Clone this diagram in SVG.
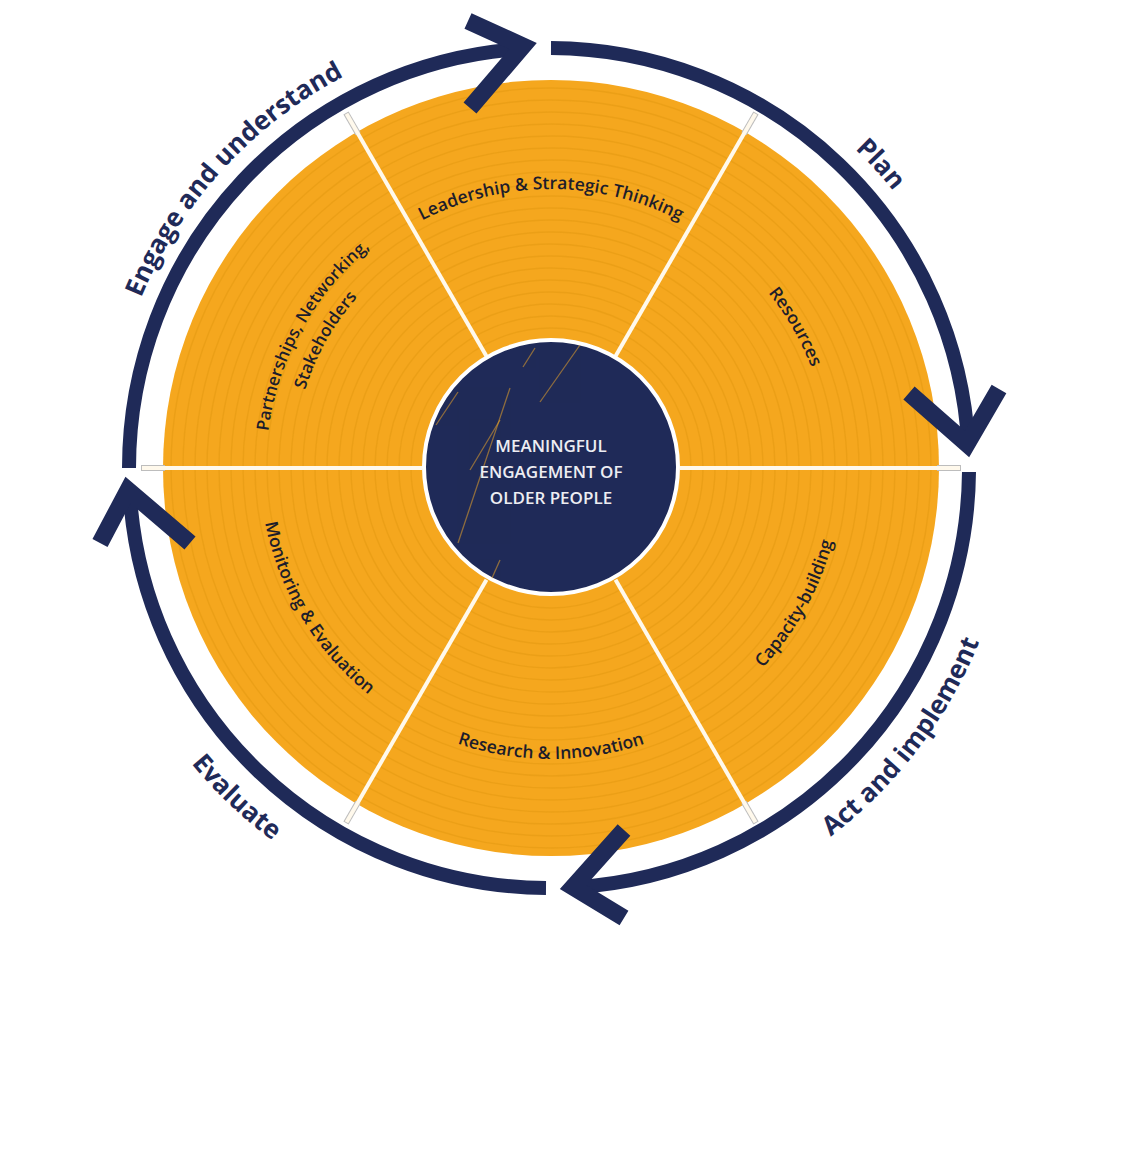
<svg xmlns="http://www.w3.org/2000/svg" width="1123" height="1151" viewBox="0 0 1123 1151">
<style>
.arc{fill:none;stroke:#1F2A58;stroke-width:14;stroke-linecap:butt}
.head{fill:none;stroke:#1F2A58;stroke-width:17;stroke-linejoin:miter;stroke-miterlimit:6;stroke-linecap:butt}
.phase{font-family:"Open Sans","Noto Sans","Liberation Sans",sans-serif;font-weight:700;font-size:26px;fill:#1F2A58;text-anchor:middle}
.lbl{font-family:"Open Sans","Noto Sans","Liberation Sans",sans-serif;font-weight:600;font-size:17.5px;fill:#1D1D2B;text-anchor:middle}
.lbl2{font-size:17px}
.ctr{font-family:"Open Sans","Noto Sans","Liberation Sans",sans-serif;font-weight:600;font-size:17px;fill:#EDEDF2;text-anchor:middle}
.ring{fill:none;stroke:#E0960F;stroke-width:1.4;opacity:.45}
.spk-o{stroke:#BDBDBD;stroke-width:6}
.spk{stroke:#FFF9EC;stroke-width:4}
.streak{stroke:#E8A32A;stroke-width:1.3;opacity:.55}
</style>
<defs>
<clipPath id="innerClip"><circle cx="551" cy="467" r="126"/></clipPath>
<path id="p-engage" d="M107.4,448.7 A442,442 0 0 1 491.3,29.8"/>
<path id="p-plan" d="M681.9,46.5 A442,442 0 0 1 980.5,372.3"/>
<path id="p-act" d="M651.0,920.6 A464,464 0 0 0 1012.5,446.1"/>
<path id="p-eval" d="M88.0,520.5 A464,464 0 0 0 520.7,931.1"/>
<path id="p-lead" d="M337.3,288.7 A279,279 0 0 1 764.7,288.7"/>
<path id="p-res" d="M646.4,205.8 A279,279 0 0 1 825.8,516.4"/>
<path id="p-cap" d="M655.3,739.7 A291,291 0 0 0 836.7,412.5"/>
<path id="p-rsi" d="M363.9,690.9 A291,291 0 0 0 738.1,690.9"/>
<path id="p-mon" d="M263.6,422.5 A291,291 0 0 0 456.3,743.1"/>
<path id="p-part1" d="M271.2,522.4 A285,285 0 0 1 448.9,201.9"/>
<path id="p-part2" d="M297.3,515.0 A258,258 0 0 1 460.6,226.1"/>
</defs>
<rect width="1123" height="1151" fill="#FFFFFF"/>

<g id="wheel">
<circle cx="551" cy="468" r="388" fill="#F5A71E"/>
<g id="rings">
<circle class="ring" cx="551" cy="468" r="140"/>
<circle class="ring" cx="551" cy="468" r="152"/>
<circle class="ring" cx="551" cy="468" r="164"/>
<circle class="ring" cx="551" cy="468" r="176"/>
<circle class="ring" cx="551" cy="468" r="188"/>
<circle class="ring" cx="551" cy="468" r="200"/>
<circle class="ring" cx="551" cy="468" r="212"/>
<circle class="ring" cx="551" cy="468" r="224"/>
<circle class="ring" cx="551" cy="468" r="236"/>
<circle class="ring" cx="551" cy="468" r="248"/>
<circle class="ring" cx="551" cy="468" r="260"/>
<circle class="ring" cx="551" cy="468" r="272"/>
<circle class="ring" cx="551" cy="468" r="284"/>
<circle class="ring" cx="551" cy="468" r="296"/>
<circle class="ring" cx="551" cy="468" r="308"/>
<circle class="ring" cx="551" cy="468" r="320"/>
<circle class="ring" cx="551" cy="468" r="332"/>
<circle class="ring" cx="551" cy="468" r="344"/>
<circle class="ring" cx="551" cy="468" r="356"/>
<circle class="ring" cx="551" cy="468" r="368"/>
<circle class="ring" cx="551" cy="468" r="380"/>
</g>
<g id="spokes">
<line class="spk-o" x1="937" y1="468" x2="961" y2="468"/>
<line class="spk-o" x1="744" y1="802.3" x2="756" y2="823.1"/>
<line class="spk-o" x1="358" y1="802.3" x2="346" y2="823.1"/>
<line class="spk-o" x1="165" y1="468" x2="141" y2="468"/>
<line class="spk-o" x1="358" y1="133.7" x2="346" y2="112.9"/>
<line class="spk-o" x1="744" y1="133.7" x2="756" y2="112.9"/>
<line class="spk" x1="680" y1="468" x2="960" y2="468"/>
<line class="spk" x1="615.5" y1="579.7" x2="755.5" y2="822.2"/>
<line class="spk" x1="486.5" y1="579.7" x2="346.5" y2="822.2"/>
<line class="spk" x1="422" y1="468" x2="142" y2="468"/>
<line class="spk" x1="486.5" y1="356.3" x2="346.5" y2="113.8"/>
<line class="spk" x1="615.5" y1="356.3" x2="755.5" y2="113.8"/>
</g>
</g>

<g id="node-center">
<circle cx="551" cy="467" r="127" fill="#1F2A58" stroke="#FFFFFF" stroke-width="4"/>
<g clip-path="url(#innerClip)">
<line class="streak" x1="458" y1="543" x2="510" y2="388"/>
<line class="streak" x1="540" y1="402" x2="580" y2="345"/>
<line class="streak" x1="470" y1="470" x2="500" y2="420"/>
<line class="streak" x1="523" y1="367" x2="535" y2="348"/>
<line class="streak" x1="480" y1="605" x2="500" y2="560"/>
<line class="streak" x1="436" y1="425" x2="458" y2="392"/>
</g>
<text class="ctr" x="551" y="452">MEANINGFUL</text>
<text class="ctr" x="551" y="478">ENGAGEMENT OF</text>
<text class="ctr" x="551" y="504">OLDER PEOPLE</text>
</g>

<g id="node-leadership"><text class="lbl"><textPath href="#p-lead" startOffset="50%">Leadership &amp; Strategic Thinking</textPath></text></g>
<g id="node-resources"><text class="lbl"><textPath href="#p-res" startOffset="50%">Resources</textPath></text></g>
<g id="node-capacity"><text class="lbl"><textPath href="#p-cap" startOffset="50%">Capacity-building</textPath></text></g>
<g id="node-research"><text class="lbl"><textPath href="#p-rsi" startOffset="50%">Research &amp; Innovation</textPath></text></g>
<g id="node-monitoring"><text class="lbl"><textPath href="#p-mon" startOffset="50%">Monitoring &amp; Evaluation</textPath></text></g>
<g id="node-partnerships">
<text class="lbl lbl2"><textPath href="#p-part1" startOffset="50%">Partnerships, Networking,</textPath></text>
<text class="lbl lbl2"><textPath href="#p-part2" startOffset="50%">Stakeholders</textPath></text>
</g>

<g id="connectors">
<path class="arc" d="M129,468 A420,420 0 0 1 523,48.8"/>
<polyline class="head" points="468,21 523,46 470,108"/>
<path class="arc" d="M551,48 A420,420 0 0 1 968.4,446"/>
<polyline class="head" points="909,393 967,444 999,389"/>
<path class="arc" d="M969,472 A420,420 0 0 1 574,887.3"/>
<polyline class="head" points="624,830 573,887 624,918"/>
<path class="arc" d="M546,888 A420,420 0 0 1 129.6,490"/>
<polyline class="head" points="100,543 128,490 190,543"/>
</g>

<g id="phase-labels">
<text class="phase"><textPath href="#p-engage" startOffset="50%">Engage and understand</textPath></text>
<text class="phase"><textPath href="#p-plan" startOffset="50%">Plan</textPath></text>
<text class="phase"><textPath href="#p-act" startOffset="50%">Act and implement</textPath></text>
<text class="phase"><textPath href="#p-eval" startOffset="50%">Evaluate</textPath></text>
</g>
</svg>
